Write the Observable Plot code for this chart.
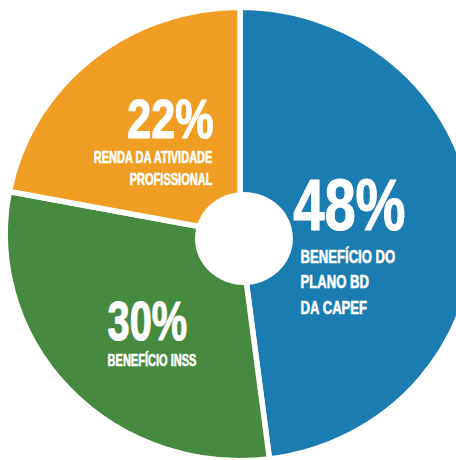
<!DOCTYPE html>
<html><head><meta charset="utf-8">
<script src="https://cdn.jsdelivr.net/npm/d3@7"></script>
<script src="https://cdn.jsdelivr.net/npm/@observablehq/plot@0.6"></script>
<style>
body{margin:0;background:#fff}
#chart svg{display:block}
</style>
</head><body><div id="chart"></div>
<script>
// ---- data ----
const categories = ["Benefício do Plano BD da CAPEF", "Benefício INSS", "Renda da Atividade Profissional"];
const shares = [48, 30, 22];
const percentLabels = ["48%", "30%", "22%"];
const nameLines = [["BENEFÍCIO DO", "PLANO BD", "DA CAPEF"], ["BENEFÍCIO INSS"], ["RENDA DA ATIVIDADE", "PROFISSIONAL"]];
const colors = ["#1a7cb0", "#468a3f", "#ef9d23"];

// ---- layout (pie unit coordinates: center 0,0, radius 1, y up) ----
const W = 456, H = 460;
const cx = 240, cy = 234, rx = 232, ry = 224;
const font = "'Liberation Sans','Arial',sans-serif";
const labelLayout = [
  {px: 0.227, py: 0.022, nx: 0.259, anchor: "start", big: 72, bigSqueeze: 0.78, small: 19, lineStep: 0.114, nameTop: -0.125},
  {px: -0.573, py: -0.473, nx: -0.573, anchor: "start", big: 56, bigSqueeze: 0.71, small: 16, lineStep: 0.1, nameTop: -0.585},
  {px: -0.116, py: 0.433, nx: -0.121, anchor: "end", big: 56, bigSqueeze: 0.77, small: 16, lineStep: 0.098, nameTop: 0.321}
];
const smallSqueeze = 0.69;

const pieArcs = d3.pie().sort(null).value(d => d)(shares);

function pieMark(index, scales) {
  const sx = scales.x, sy = scales.y;
  const ox = sx(0), oy = sy(0), kx = sx(1) - ox, ky = oy - sy(1);
  const g = d3.create("svg:g").attr("transform", `translate(${ox},${oy}) scale(${kx},${ky})`);
  const arc = d3.arc().innerRadius(0).outerRadius(1.012);
  g.selectAll("path").data(pieArcs).join("path")
    .attr("d", arc)
    .attr("fill", (d, i) => colors[i])
    .attr("stroke", "#fff")
    .attr("stroke-width", 5.5)
    .attr("vector-effect", "non-scaling-stroke");
  g.append("ellipse")
    .attr("cx", 0.017).attr("cy", 0.02)
    .attr("rx", 0.211).attr("ry", 0.2076)
    .attr("fill", "#fff");
  return g.node();
}

// horizontally condense text around its anchor (emulates a condensed typeface)
function squeeze(k) {
  return (index, scales, values, dimensions, context, next) => {
    const g = next(index, scales, values, dimensions, context);
    d3.select(g).selectAll("text").each(function () {
      const t = this.getAttribute("transform") || "";
      this.setAttribute("transform", `${t} scale(${k},1)`);
    });
    return g;
  };
}

const bigLabels = shares.map((v, i) => ({
  text: percentLabels[i], x: labelLayout[i].px, y: labelLayout[i].py,
  anchor: labelLayout[i].anchor, size: labelLayout[i].big, k: labelLayout[i].bigSqueeze, sw: 1.2, cat: categories[i]
}));
const smallLabels = nameLines.flatMap((lines, i) => lines.map((t, j) => ({
  text: t, x: labelLayout[i].nx, y: labelLayout[i].nameTop - j * labelLayout[i].lineStep,
  anchor: labelLayout[i].anchor, size: labelLayout[i].small, k: smallSqueeze, sw: 0.6
})));

const chart = Plot.plot({
  width: W, height: H,
  margin: 0,
  x: {domain: [(0 - cx) / rx, (W - cx) / rx], range: [0, W], axis: null},
  y: {domain: [(cy - H) / ry, cy / ry], range: [H, 0], axis: null},
  style: {background: "#fff", fontFamily: font},
  marks: [
    pieMark,
    ...[...bigLabels, ...smallLabels].map(d => Plot.text([d], {
      x: "x", y: "y", text: "text", textAnchor: d.anchor, lineAnchor: "bottom",
      fontSize: d.size, fontWeight: "bold", fill: "#fff", fontFamily: font,
      stroke: "#fff", strokeWidth: d.sw,
      render: squeeze(d.k)
    }))
  ]
});
document.getElementById("chart").append(chart);
</script>
</body></html>
